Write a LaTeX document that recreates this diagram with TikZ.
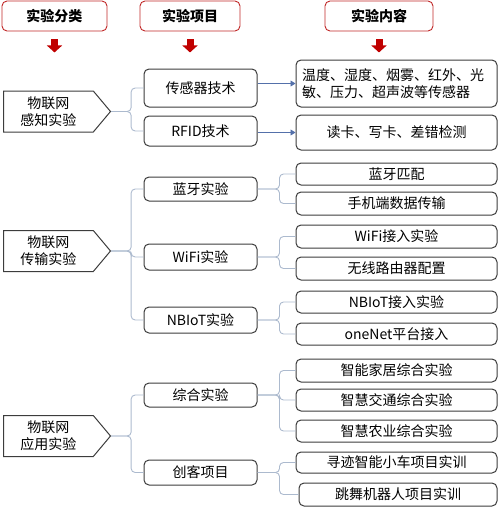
\documentclass[tikz,border=0pt]{standalone}
\usepackage{fontspec}
\setmainfont{Noto Sans CJK SC}
\usetikzlibrary{shapes.symbols,arrows.meta}
\definecolor{hdred}{RGB}{192,40,40}
\definecolor{arrred}{RGB}{192,0,0}
\definecolor{brgray}{RGB}{172,186,206}
\definecolor{arblue}{RGB}{84,112,170}
\definecolor{boxgray}{RGB}{60,60,60}
\tikzset{
  txt/.style={font=\fontsize{14}{17}\selectfont},
  head/.style={draw=hdred, rounded corners=5pt, line width=0.9pt, minimum height=30pt,
    font=\fontsize{14}{17}\selectfont\bfseries},
  cat/.style={signal, signal to=east, signal pointer angle=100, draw=boxgray, line width=1pt,
    minimum height=41pt, minimum width=107pt, anchor=west, align=center, txt, inner sep=2pt},
  item/.style={draw=boxgray, rounded corners=5pt, line width=1pt, minimum width=113pt, txt},
  cont/.style={draw=boxgray, rounded corners=5pt, line width=1pt, minimum width=201pt, txt},
  brace/.style={draw=brgray, line width=0.9pt, rounded corners=4pt},
  link/.style={draw=arblue, line width=0.7pt, -{Triangle[length=5pt,width=6pt]}},
  downarr/.style={draw=arrred, line width=7pt, -{Triangle[length=7pt,width=15pt]}}
}
\begin{document}
\begin{tikzpicture}[x=1pt,y=-1pt]
        \useasboundingbox (0,0) rectangle (500,512);
        %headers
        \node[head, minimum width=105pt] (h1) at (54.5,16) {实验分类};
        \node[head, minimum width=100pt] (h2) at (190,16) {实验项目};
        \node[head, minimum width=108pt] (h3) at (379,16) {实验内容};
        \draw[downarr] ([yshift=-8pt]h1.south) -- ++(0,13);
        \draw[downarr] ([yshift=-8pt]h2.south) -- ++(0,13);
        \draw[downarr] ([yshift=-8pt]h3.south) -- ++(0,13);

        %categories
        \node[cat] (a1) at (3,111.5) {物联网\\感知实验};
        \node[cat] (a2) at (3,251) {物联网\\传输实验};
        \node[cat] (a3) at (3,436) {物联网\\应用实验};

        %items
        \node[item, minimum height=38pt] (b1) at (200.5,88) {传感器技术};
        \node[item, minimum height=30pt] (b2) at (200.5,131) {RFID技术};
        \node[item, minimum height=24pt] (b3) at (200.5,189) {蓝牙实验};
        \node[item, minimum height=26pt] (b4) at (200.5,257) {WiFi实验};
        \node[item, minimum height=26pt] (b5) at (200.5,320) {NBIoT实验};
        \node[item, minimum height=24pt] (b6) at (200.5,395) {综合实验};
        \node[item, minimum height=25pt] (b7) at (200.5,472.5) {创客项目};

        %contents
        \node[cont, minimum height=47pt, text width=189pt, align=left, inner xsep=5pt] (c1) at (396.5,83.5)
            {温度、湿度、烟雾、红外、光\\敏、压力、超声波等传感器};
        \node[cont, minimum height=35pt] (c2) at (396.5,132.5) {读卡、写卡、差错检测};
        \node[cont, minimum height=22pt] (c3) at (396.5,174) {蓝牙匹配};
        \node[cont, minimum height=23pt] (c4) at (396.5,203.5) {手机端数据传输};
        \node[cont, minimum height=23pt] (c5) at (396.5,236.5) {WiFi接入实验};
        \node[cont, minimum height=23pt] (c6) at (396.5,268.5) {无线路由器配置};
        \node[cont, minimum height=22pt] (c7) at (396.5,302) {NBIoT接入实验};
        \node[cont, minimum height=22pt] (c8) at (396.5,334) {oneNet平台接入};
        \node[cont, minimum height=23pt] (c9) at (396.5,370.5) {智能家居综合实验};
        \node[cont, minimum height=22pt] (c10) at (396.5,400) {智慧交通综合实验};
        \node[cont, minimum height=22pt] (c11) at (396.5,431) {智慧农业综合实验};
        \node[cont, minimum height=21pt] (c12) at (396.5,462.5) {寻迹智能小车项目实训};
        \node[cont, minimum height=23pt, minimum width=198pt] (c13) at (398,494.5) {跳舞机器人项目实训};

        %braces
        \foreach \p/\c in {a1/b1,a1/b2,a2/b3,a2/b4,a2/b5,a3/b6,a3/b7}
            \draw[brace] (\p.east) -- ++(20,0) |- (\c.west);
        \foreach \p/\c in {b3/c3,b3/c4,b4/c5,b4/c6,b5/c7,b5/c8,b6/c9,b6/c10,b6/c11,b7/c12,b7/c13}
            \draw[brace] (\p.east) -- ++(22,0) |- (\c.west);

        %links
        \draw[link] (b1.east |- c1.west) -- (c1.west);
        \draw[link] (b2.east |- c2.west) -- (c2.west);
    \end{tikzpicture}
\end{document}
